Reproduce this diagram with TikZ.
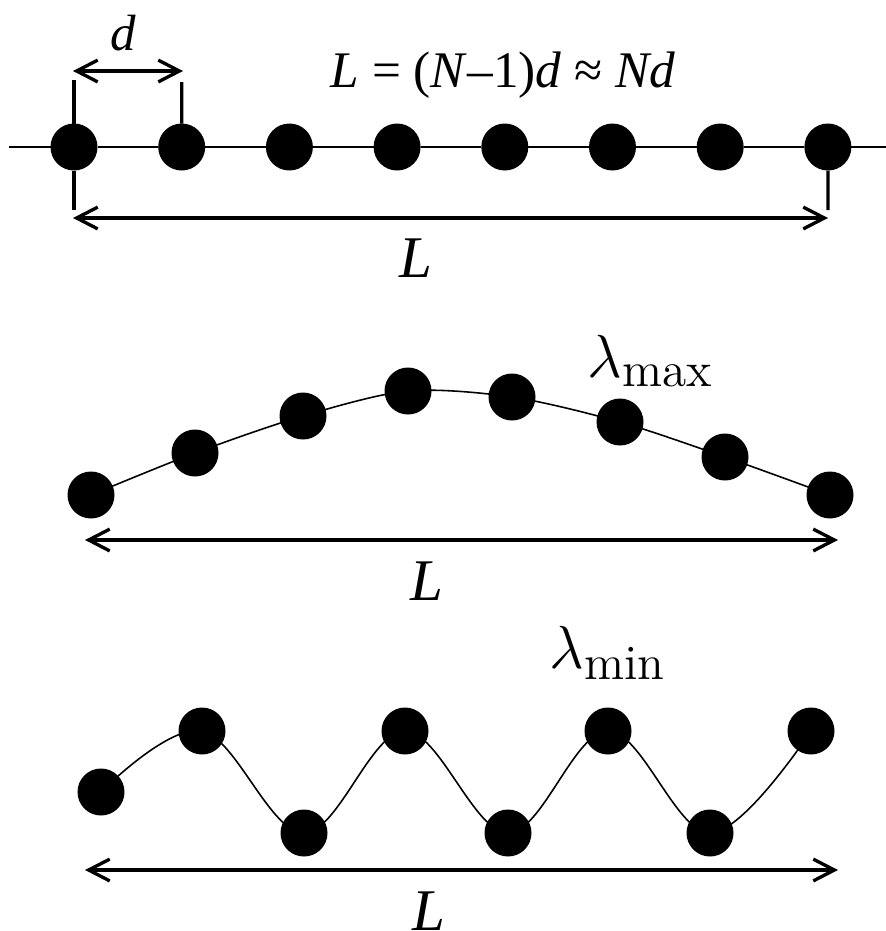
\documentclass[tikz,border=0pt]{standalone}
\usepackage{amsmath}
\usepackage{fontspec}
\usetikzlibrary{arrows.meta,positioning}
\newfontfamily\tms{Liberation Serif}

\begin{document}
\begin{tikzpicture}[
    x=0.1mm, y=-0.1mm,
    node distance=6.07mm,
    bead/.style={circle, fill=black, inner sep=0pt, outer sep=0pt, minimum size=4.7mm},
    chain/.style={black, line width=0.45pt},
    span/.style={{Straight Barb[length=6pt,width=6.2pt]}-{Straight Barb[length=6pt,width=6.2pt]}, line width=0.95pt},
    tick/.style={line width=0.95pt},
    lbl/.style={inner sep=0pt, font=\tms\itshape\fontsize{16.8}{20}\selectfont},
    eig/.style={inner sep=0pt, anchor=base west, font=\fontsize{16.5}{20}\selectfont}
]
\useasboundingbox (0,0) rectangle (886,931);

% uniform chain
\node[bead] (t1) at (74,147) {};
\node[bead, right=of t1] (t2) {};
\node[bead, right=of t2] (t3) {};
\node[bead, right=of t3] (t4) {};
\node[bead, right=of t4] (t5) {};
\node[bead, right=of t5] (t6) {};
\node[bead, right=of t6] (t7) {};
\node[bead, right=of t7] (t8) {};
\coordinate (lineL) at (9,147);
\coordinate (lineR) at (886,147);
\draw[chain] (lineL) -- (t1) -- (t2) -- (t3) -- (t4) -- (t5) -- (t6) -- (t7) -- (t8) -- (lineR);

\coordinate (dTickL) at (74,80);
\coordinate (dTickR) at (181.7,82);
\coordinate (dArrL) at (73,71);
\coordinate (dArrR) at (183,71);
\draw[tick] (t1) -- (dTickL);
\draw[tick] (t2) -- (dTickR);
\draw[span] (dArrL) -- (dArrR);
\node[lbl, font=\tms\itshape\fontsize{14.5}{17}\selectfont] (dlab) at (123,33) {d};
\node[inner sep=0pt, anchor=base west, font=\tms\fontsize{14.6}{18}\selectfont] (formula) at (330,87)
    {\textit{L} = (\textit{N}–1)\textit{d} ≈ \textit{Nd}};

\coordinate (LTickL) at (74,210);
\coordinate (LTickR) at (828,210);
\coordinate (LArrL) at (73,218);
\coordinate (LArrR) at (828,218);
\draw[tick] (t1) -- (LTickL);
\draw[tick] (t8) -- (LTickR);
\draw[span] (LArrL) -- (LArrR);
\node[lbl] (Ltop) at (416,258) {L};

% longest wavelength
\node[bead] (m1) at (91,495) {};
\node[bead] (m2) at (195,453) {};
\node[bead] (m3) at (303,416) {};
\node[bead] (m4) at (408,391) {};
\node[bead] (m5) at (512,397) {};
\node[bead] (m6) at (620,422) {};
\node[bead] (m7) at (725,457) {};
\node[bead] (m8) at (830,495) {};
\draw[chain] plot[smooth] coordinates {(m1.center) (m2.center) (m3.center) (m4.center) (m5.center) (m6.center) (m7.center) (m8.center)};
\node[eig] (lmax) at (587,377) {$\lambda_{\text{\fontsize{14}{16}\selectfont max}}$};
\coordinate (mArrL) at (85,540);
\coordinate (mArrR) at (838,540);
\draw[span] (mArrL) -- (mArrR);
\node[lbl] (Lmid) at (427,581) {L};

% shortest wavelength
\node[bead] (b1) at (101,792) {};
\node[bead] (b2) at (202,731) {};
\node[bead] (b3) at (304,833) {};
\node[bead] (b4) at (405,731) {};
\node[bead] (b5) at (508,833) {};
\node[bead] (b6) at (608,731) {};
\node[bead] (b7) at (710,833) {};
\node[bead] (b8) at (811,731) {};
\draw[chain] plot[smooth, tension=0.6] coordinates {(b1.center) (b2.center) (b3.center) (b4.center) (b5.center) (b6.center) (b7.center) (b8.center)};
\node[eig] (lmin) at (549,668) {$\lambda_{\text{\fontsize{14}{16}\selectfont min}}$};
\coordinate (bArrL) at (85,870);
\coordinate (bArrR) at (838,870);
\draw[span] (bArrL) -- (bArrR);
\node[lbl] (Lbot) at (429,911) {L};
\end{tikzpicture}
\end{document}
